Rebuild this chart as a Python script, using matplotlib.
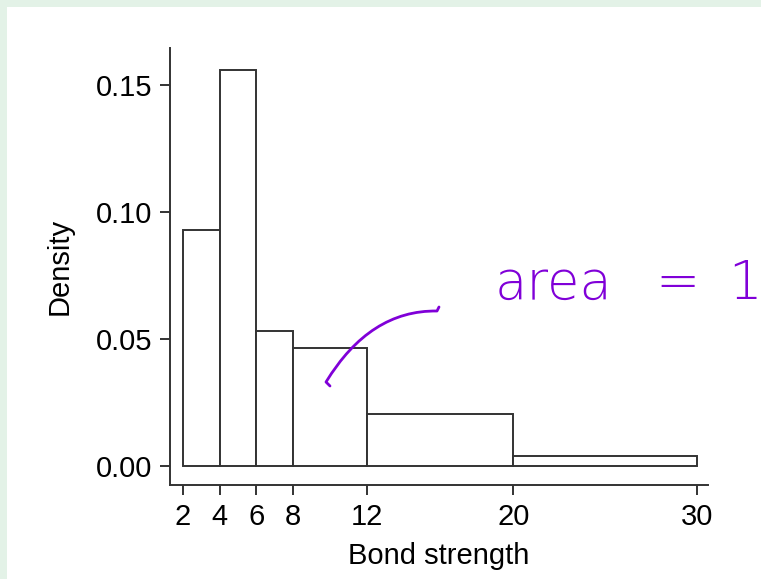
import numpy as np
import matplotlib.pyplot as plt
from matplotlib.patches import Rectangle, PathPatch
from matplotlib.path import Path

plt.rcParams['font.family'] = ['Liberation Sans', 'DejaVu Sans']

# histogram bins and densities
bin_edges = np.array([2, 4, 6, 8, 12, 20, 30])
density = np.array([0.093, 0.156, 0.053, 0.0465, 0.0205, 0.004])
x_ticks = [2, 4, 6, 8, 12, 20, 30]
y_ticks = [0.00, 0.05, 0.10, 0.15]

W, H = 761, 579
fig = plt.figure(figsize=(W / 100, H / 100), dpi=100, facecolor='#e3f2e7')
# white slide panel
fig.patches.append(Rectangle((7 / W, 0), 1, (H - 7) / H, transform=fig.transFigure,
                             facecolor='white', edgecolor='none', zorder=-5))

ax = fig.add_axes([170 / W, 1 - 485 / H, (708 - 170) / W, (485 - 48) / H])
ax.set_zorder(2)
ax.patch.set_alpha(0)

widths = np.diff(bin_edges)
ax.bar(bin_edges[:-1], density, width=widths, align='edge',
       facecolor='white', edgecolor='#333333', linewidth=1.4)

ax.set_xlim(1.29, 30.6)
ax.set_ylim(-0.0075, 0.1646)
ax.set_xticks(x_ticks)
ax.set_yticks(y_ticks)
ax.set_yticklabels(['%.2f' % v for v in y_ticks])
for s in ['top', 'right']:
    ax.spines[s].set_visible(False)
for s in ['left', 'bottom']:
    ax.spines[s].set_color('#333333')
    ax.spines[s].set_linewidth(1.4)
ax.tick_params(direction='out', length=7, width=1.4, color='#333333',
               labelsize=21, pad=6)
ax.set_xlabel('Bond strength', fontsize=21, labelpad=8)
ax.set_ylabel('Density', fontsize=21, labelpad=16)

# handwritten annotation
purple = '#8000d8'
def px(x, y):
    return (x / W, 1 - y / H)
verts = [px(330, 386), px(326, 382), px(370, 310), px(437, 311), px(439, 307)]
codes = [Path.MOVETO, Path.LINETO, Path.CURVE3, Path.CURVE3, Path.LINETO]
fig.patches.append(PathPatch(Path(verts, codes), transform=fig.transFigure,
                             facecolor='none', edgecolor=purple, linewidth=2,
                             capstyle='round', joinstyle='round', zorder=5))
hand = dict(color=purple, fontsize=38, fontweight='light',
            family=['DejaVu Sans'], va='baseline', zorder=5)
fig.text(495 / W, 1 - 299 / H, 'area', **hand)
fig.text(655 / W, 1 - 299 / H, '=', **hand)
fig.text(728 / W, 1 - 299 / H, '1', **hand)

fig.savefig('out.png', dpi=100, facecolor=fig.get_facecolor())
